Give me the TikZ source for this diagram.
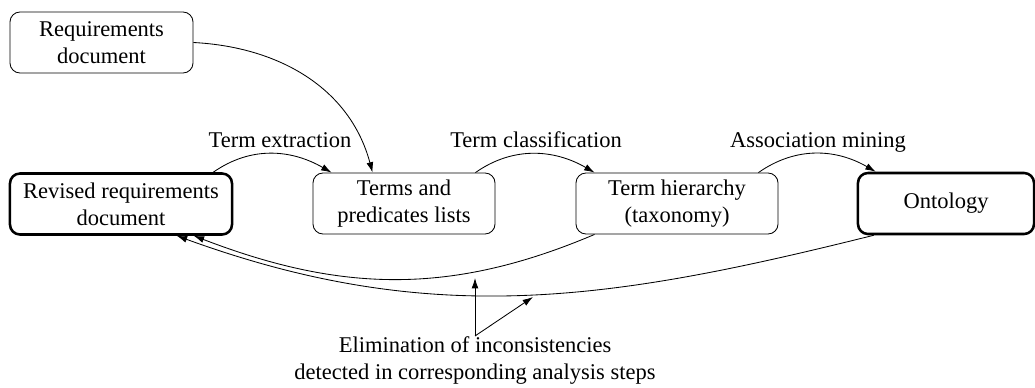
\documentclass[tikz,border=0pt]{standalone}
\usepackage{fontspec}
\setmainfont{Liberation Serif}
\usetikzlibrary{arrows.meta}
\begin{document}
\begin{tikzpicture}[x=0.025cm,y=-0.025cm,
  every node/.style={font=\fontsize{16}{19.2}\selectfont},
  box/.style={draw, rounded corners=0.25cm, line width=0.6pt, align=center,
    inner sep=0pt, minimum height=1.525cm},
  keybox/.style={box, line width=1.8pt},
  flow/.style={-{Latex[length=2.6mm,width=1.7mm]}, line width=0.6pt},
  steplabel/.style={anchor=base, inner sep=0pt}]
\useasboundingbox (0,0) rectangle (1035,388);

% documents and analysis artefacts
\node[box, minimum width=4.575cm] (req) at (101.5,42.5) {Requirements\\document};
\node[keybox, minimum width=5.55cm] (rev) at (121,204) {Revised requirements\\document};
\node[box, minimum width=4.55cm] (terms) at (404,203.5) {Terms and\\predicates lists};
\node[box, minimum width=5.05cm] (hier) at (677,203.5) {Term hierarchy\\(taxonomy)};
\node[keybox, minimum width=4.4cm] (onto) at (946,203.5) {Ontology};

% step names
\node[steplabel] (lx) at (280,147) {Term extraction};
\node[steplabel] (lc) at (536,147) {Term classification};
\node[steplabel] (lm) at (818,147) {Association mining};

% forward analysis steps
\draw[flow] (req.east) to[out=-3,in=105] ([xshift=1.5cm]terms.north west);
\draw[flow] ([xshift=-0.5cm]rev.north east) to[out=35,in=150] ([xshift=0.475cm]terms.north west);
\draw[flow] ([xshift=-0.5cm]terms.north east) to[out=35,in=150] ([xshift=0.475cm]hier.north west);
\draw[flow] ([xshift=-0.5cm]hier.north east) to[out=35,in=150] ([xshift=0.475cm]onto.north west);

% feedback to the requirements
\draw[flow] ([xshift=0.475cm]hier.south west) to[out=203,in=-21] ([xshift=4.625cm]rev.south west);
\draw[flow] ([xshift=0.425cm]onto.south west) to[out=194,in=-20] ([xshift=4.2cm]rev.south west);

% explanation of the feedback loops
\node[align=center, anchor=north, inner sep=0pt] (elim) at (475,336)
  {Elimination of inconsistencies\\detected in corresponding analysis steps};
\coordinate (upTip) at (475,278);
\coordinate (diagTip) at (533,297);
\draw[flow] (elim.north) -- (upTip);
\draw[flow] (elim.north) -- (diagTip);
\end{tikzpicture}
\end{document}
